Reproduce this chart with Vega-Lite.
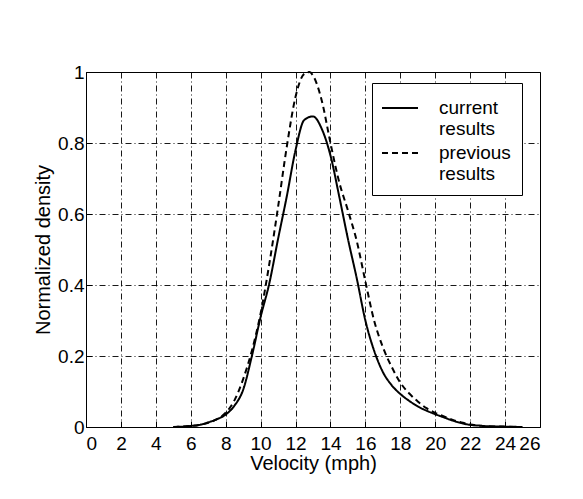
{
  "$schema": "https://vega.github.io/schema/vega-lite/v6.json",
  "width": 454,
  "height": 355,
  "autosize": {"type": "none"},
  "padding": {"left": 86, "top": 72, "right": 43, "bottom": 72},
  "background": "white",
  "config": {
    "font": "Liberation Sans",
    "view": {"stroke": "black", "strokeWidth": 1},
    "axis": {
      "labelFont": "Liberation Sans",
      "labelFontSize": 19,
      "labelColor": "black",
      "titleFont": "Liberation Sans",
      "titleFontSize": 20,
      "titleFontWeight": "normal",
      "titleColor": "black",
      "domainColor": "black",
      "tickColor": "black",
      "gridColor": "black",
      "gridOpacity": 0.9,
      "gridWidth": 1,
      "gridDash": [6, 3, 1, 3]
    }
  },
  "data": {
    "values": [
      {"v": 5.0, "d": 0.0, "s": "current results"},
      {"v": 5.5, "d": 0.001, "s": "current results"},
      {"v": 6.0, "d": 0.003, "s": "current results"},
      {"v": 6.5, "d": 0.006, "s": "current results"},
      {"v": 7.0, "d": 0.013, "s": "current results"},
      {"v": 7.5, "d": 0.022, "s": "current results"},
      {"v": 8.0, "d": 0.035, "s": "current results"},
      {"v": 8.5, "d": 0.06, "s": "current results"},
      {"v": 9.0, "d": 0.105, "s": "current results"},
      {"v": 9.5, "d": 0.2, "s": "current results"},
      {"v": 10.0, "d": 0.31, "s": "current results"},
      {"v": 10.5, "d": 0.405, "s": "current results"},
      {"v": 11.0, "d": 0.53, "s": "current results"},
      {"v": 11.5, "d": 0.65, "s": "current results"},
      {"v": 12.0, "d": 0.78, "s": "current results"},
      {"v": 12.5, "d": 0.865, "s": "current results"},
      {"v": 13.0, "d": 0.875, "s": "current results"},
      {"v": 13.5, "d": 0.84, "s": "current results"},
      {"v": 14.0, "d": 0.765, "s": "current results"},
      {"v": 14.5, "d": 0.65, "s": "current results"},
      {"v": 15.0, "d": 0.53, "s": "current results"},
      {"v": 15.5, "d": 0.42, "s": "current results"},
      {"v": 16.0, "d": 0.3, "s": "current results"},
      {"v": 16.5, "d": 0.215, "s": "current results"},
      {"v": 17.0, "d": 0.155, "s": "current results"},
      {"v": 17.5, "d": 0.118, "s": "current results"},
      {"v": 18.0, "d": 0.093, "s": "current results"},
      {"v": 18.5, "d": 0.074, "s": "current results"},
      {"v": 19.0, "d": 0.058, "s": "current results"},
      {"v": 19.5, "d": 0.046, "s": "current results"},
      {"v": 20.0, "d": 0.036, "s": "current results"},
      {"v": 20.5, "d": 0.027, "s": "current results"},
      {"v": 21.0, "d": 0.018, "s": "current results"},
      {"v": 21.5, "d": 0.011, "s": "current results"},
      {"v": 22.0, "d": 0.006, "s": "current results"},
      {"v": 22.5, "d": 0.004, "s": "current results"},
      {"v": 23.0, "d": 0.002, "s": "current results"},
      {"v": 24.0, "d": 0.001, "s": "current results"},
      {"v": 25.0, "d": 0.0, "s": "current results"},
      {"v": 5.0, "d": 0.0, "s": "previous results"},
      {"v": 6.0, "d": 0.003, "s": "previous results"},
      {"v": 6.5, "d": 0.006, "s": "previous results"},
      {"v": 7.0, "d": 0.012, "s": "previous results"},
      {"v": 7.5, "d": 0.022, "s": "previous results"},
      {"v": 8.0, "d": 0.04, "s": "previous results"},
      {"v": 8.5, "d": 0.075, "s": "previous results"},
      {"v": 9.0, "d": 0.135, "s": "previous results"},
      {"v": 9.5, "d": 0.215, "s": "previous results"},
      {"v": 10.0, "d": 0.32, "s": "previous results"},
      {"v": 10.5, "d": 0.46, "s": "previous results"},
      {"v": 11.0, "d": 0.62, "s": "previous results"},
      {"v": 11.5, "d": 0.79, "s": "previous results"},
      {"v": 12.0, "d": 0.93, "s": "previous results"},
      {"v": 12.5, "d": 0.995, "s": "previous results"},
      {"v": 12.8, "d": 1.0, "s": "previous results"},
      {"v": 13.0, "d": 0.99, "s": "previous results"},
      {"v": 13.5, "d": 0.92, "s": "previous results"},
      {"v": 14.0, "d": 0.8, "s": "previous results"},
      {"v": 14.5, "d": 0.69, "s": "previous results"},
      {"v": 15.0, "d": 0.61, "s": "previous results"},
      {"v": 15.5, "d": 0.525, "s": "previous results"},
      {"v": 16.0, "d": 0.41, "s": "previous results"},
      {"v": 16.5, "d": 0.3, "s": "previous results"},
      {"v": 17.0, "d": 0.225, "s": "previous results"},
      {"v": 17.5, "d": 0.17, "s": "previous results"},
      {"v": 18.0, "d": 0.125, "s": "previous results"},
      {"v": 18.5, "d": 0.095, "s": "previous results"},
      {"v": 19.0, "d": 0.072, "s": "previous results"},
      {"v": 19.5, "d": 0.053, "s": "previous results"},
      {"v": 20.0, "d": 0.04, "s": "previous results"},
      {"v": 20.5, "d": 0.03, "s": "previous results"},
      {"v": 21.0, "d": 0.02, "s": "previous results"},
      {"v": 21.5, "d": 0.013, "s": "previous results"},
      {"v": 22.0, "d": 0.007, "s": "previous results"},
      {"v": 22.5, "d": 0.004, "s": "previous results"},
      {"v": 23.0, "d": 0.002, "s": "previous results"},
      {"v": 24.0, "d": 0.001, "s": "previous results"},
      {"v": 24.5, "d": 0.0, "s": "previous results"}
    ]
  },
  "mark": {"type": "line", "color": "black", "strokeWidth": 2, "interpolate": "monotone"},
  "encoding": {
    "x": {
      "field": "v",
      "type": "quantitative",
      "scale": {"domain": [0, 26], "nice": false},
      "axis": {"title": "Velocity (mph)", "values": [0,2,4,6,8,10,12,14,16,18,20,22,24,26], "tickSize": -6, "labelPadding": 13, "titlePadding": 0, "domain": false}
    },
    "y": {
      "field": "d",
      "type": "quantitative",
      "scale": {"domain": [0, 1], "nice": false},
      "axis": {"title": "Normalized density", "values": [0, 0.2, 0.4, 0.6, 0.8, 1], "labelExpr": "datum.value == 0 ? '0' : datum.value == 1 ? '1' : format(datum.value, '.1f')", "tickSize": -6, "labelPadding": 8, "titlePadding": 4, "domain": false}
    },
    "strokeDash": {
      "field": "s",
      "type": "nominal",
      "scale": {"domain": ["current results", "previous results"], "range": [[1, 0], [6, 4]]},
      "legend": {
        "title": null,
        "orient": "none",
        "legendX": 286,
        "legendY": 11,
        "strokeColor": "black",
        "fillColor": "white",
        "padding": 11,
        "symbolType": "M-1.385,0H1.385",
        "symbolSize": 676,
        "symbolOffset": 3,
        "symbolStrokeWidth": 2,
        "symbolStrokeColor": "black",
        "labelFont": "Liberation Sans",
        "labelFontSize": 19,
        "labelColor": "black",
        "labelOffset": 25,
        "rowPadding": 0,
        "labelExpr": "split(datum.label, ' ')",
        "encode": {"labels": {"update": {"lineHeight": {"value": 21}}}}
      }
    }
  }
}
